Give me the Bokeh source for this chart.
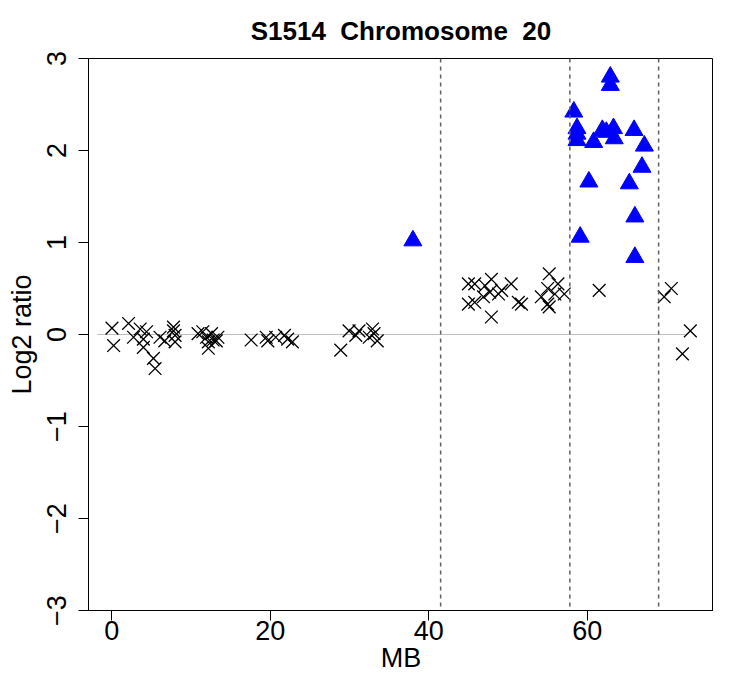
from bokeh.plotting import figure
from bokeh.embed import file_html
from bokeh.resources import INLINE
from bokeh.models import Span, FixedTicker

# ---- data ----
cross_x = [0.04, 0.25, 2.13, 2.76, 3.6, 4.0, 4.4, 4.0, 5.27, 5.48, 6.1, 6.7,
           7.8, 8.0, 8.0, 7.8,
           10.9, 11.5, 11.96, 12.2, 12.2, 12.8, 12.6, 13.2, 13.4,
           17.6, 19.5, 19.7, 20.7, 21.8, 22.2, 22.8,
           28.9, 29.95, 30.8, 31.2, 32.9, 33.1, 32.5, 33.5,
           45.0, 45.8, 45.0, 45.8, 46.9, 47.1, 47.9, 47.7, 47.9, 48.8, 49.2,
           50.4, 51.3, 51.7, 54.2, 55.2, 55.0, 55.2, 55.0, 56.3, 57.1, 55.9,
           61.5, 69.7, 70.6, 73.0, 72.0]
cross_y = [0.07, -0.12, 0.12, -0.03, 0.06, -0.05, 0.03, -0.14, -0.26, -0.37, -0.03, -0.07,
           0.04, -0.01, -0.08, 0.08,
           0.01, 0.03, -0.03, -0.08, -0.15, -0.06, 0.01, -0.07, -0.03,
           -0.06, -0.03, -0.07, -0.03, -0.01, -0.05, -0.08,
           -0.17, 0.04, -0.01, 0.04, 0.06, 0.01, -0.03, -0.07,
           0.55, 0.55, 0.33, 0.35, 0.41, 0.53, 0.60, 0.46, 0.19, 0.44, 0.48,
           0.55, 0.35, 0.33, 0.41, 0.66, 0.50, 0.30, 0.33, 0.55, 0.44, 0.44,
           0.48, 0.41, 0.50, 0.04, -0.21]

tri_x = [38.0, 62.9, 62.9, 58.3, 58.7, 58.7, 58.7, 60.8, 61.9, 62.4, 63.3, 63.4,
         65.9, 67.2, 66.9, 60.2, 65.3, 66.0, 59.1, 66.0]
tri_y = [1.02, 2.80, 2.71, 2.42, 2.24, 2.18, 2.11, 2.09, 2.22, 2.20, 2.24, 2.13,
         2.22, 2.05, 1.82, 1.66, 1.64, 1.28, 1.06, 0.84]

breakpoints = [41.5, 57.8, 69.0]
zero_line_x = [-1.8, 72.4]
zero_line_y = [0, 0]

x_lo, x_hi = -2.92, 75.92
y_lo, y_hi = -3, 3
x_ticks = [0, 20, 40, 60]
y_ticks = [-3, -2, -1, 0, 1, 2, 3]
y_tick_labels = {-3: "\u22123", -2: "\u22122", -1: "\u22121", 0: "0", 1: "1", 2: "2", 3: "3"}

TITLE = "S1514\u00a0\u00a0Chromosome\u00a0\u00a020"
FONT = "Liberation Sans"

p = figure(width=713, height=675,
           x_range=(x_lo, x_hi), y_range=(y_lo, y_hi),
           output_backend="svg", toolbar_location=None,
           min_border_left=88, min_border_right=0, min_border_top=58, min_border_bottom=65,
           title=TITLE)

p.title.text_font = FONT
p.title.text_font_size = "26px"
p.title.text_font_style = "bold"
p.title.text_color = "black"
p.title.align = "center"
p.title.standoff = 26

p.grid.visible = False
p.outline_line_color = "black"
p.outline_line_width = 1
p.background_fill_color = "white"
p.border_fill_color = "white"

for ax in (p.xaxis[0], p.yaxis[0]):
    ax.major_tick_out = 10
    ax.major_tick_in = 0
    ax.minor_tick_line_color = None
    ax.axis_line_color = "black"
    ax.major_tick_line_color = "black"
    ax.major_label_text_font = FONT
    ax.major_label_text_font_size = "27px"
    ax.major_label_text_color = "black"
    ax.axis_label_text_font = FONT
    ax.axis_label_text_font_size = "27px"
    ax.axis_label_text_font_style = "normal"
    ax.axis_label_text_color = "black"

p.xaxis.ticker = FixedTicker(ticks=x_ticks)
p.yaxis.ticker = FixedTicker(ticks=y_ticks)
p.yaxis.major_label_overrides = y_tick_labels
p.yaxis.major_label_orientation = "parallel"
p.xaxis.axis_label = "MB"
p.yaxis.axis_label = "Log2 ratio"
p.xaxis.major_label_standoff = 0
p.yaxis.major_label_standoff = 13
p.xaxis.axis_label_standoff = 0
p.yaxis.axis_label_standoff = 7

p.line(zero_line_x, zero_line_y, line_color="#bebebe", line_width=1)

for b in breakpoints:
    p.add_layout(Span(location=b, dimension="height", line_color="#606060",
                      line_width=1.5, line_dash="4 4"))

p.scatter(cross_x, cross_y, marker="x", size=18, line_color="black", line_width=1.3)
p.scatter(tri_x, tri_y, marker="triangle", size=18, fill_color="#0000ff",
          line_color="#0000ff", line_width=1)

open("out.html", "w").write(file_html(p, INLINE))
